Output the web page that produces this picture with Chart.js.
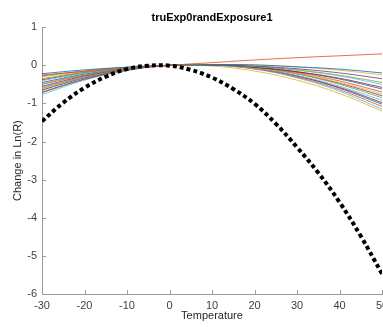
<!DOCTYPE html>
<html>
<head>
<meta charset="utf-8">
<script src="https://cdn.jsdelivr.net/npm/chart.js@4.4.1/dist/chart.umd.min.js"></script>
<style>
  html, body { margin: 0; padding: 0; background: #fff; overflow: hidden; }
  #wrap { width: 400px; height: 327px; position: relative; }
</style>
</head>
<body>
<div id="wrap"><canvas id="tempChart"></canvas></div>
<script>
// Donnees
const chartTitle = 'truExp0randExposure1';
const xTitle = 'Temperature';
const yTitle = 'Change in Ln(R)';

const xTicks = [-30, -20, -10, 0, 10, 20, 30, 40, 50];
const yTicks = [1, 0, -1, -2, -3, -4, -5, -6];

// courbe "vraie" (pointillee noire)
const trueTemps = [-30, -25, -20, -15, -10, -5, 0, 5, 10, 15, 20, 25, 30, 35, 40, 45, 50];
const trueValues = [-1.47, -0.98, -0.59, -0.30, -0.10, -0.01, -0.01, -0.12, -0.32, -0.62, -1.01, -1.53, -2.15, -2.82, -3.59, -4.48, -5.47];

// courbes estimees (fines, couleurs)
const estTemps = [-30, -20, -10, 0, 10, 20, 30, 40, 50];
const est01 = [-0.25, -0.16, -0.08, 0, 0.07, 0.14, 0.20, 0.25, 0.30];
const est02 = [-0.22, -0.12, -0.05, 0, 0.02, 0.01, -0.04, -0.10, -0.20];
const est03 = [-0.30, -0.16, -0.06, 0, 0.02, 0.01, -0.04, -0.13, -0.25];
const est04 = [-0.28, -0.15, -0.05, 0, 0.01, -0.02, -0.09, -0.20, -0.35];
const est05 = [-0.35, -0.18, -0.07, 0, 0.01, -0.03, -0.12, -0.26, -0.45];
const est06 = [-0.40, -0.21, -0.08, 0, 0.02, -0.03, -0.13, -0.28, -0.50];
const est07 = [-0.38, -0.19, -0.07, 0, 0.01, -0.05, -0.17, -0.34, -0.58];
const est08 = [-0.45, -0.23, -0.08, 0, 0.01, -0.04, -0.17, -0.36, -0.62];
const est09 = [-0.50, -0.26, -0.09, 0, 0.01, -0.05, -0.19, -0.41, -0.70];
const est10 = [-0.48, -0.24, -0.08, 0, 0.01, -0.07, -0.22, -0.45, -0.75];
const est11 = [-0.55, -0.28, -0.10, 0, 0.01, -0.06, -0.22, -0.47, -0.80];
const est12 = [-0.60, -0.31, -0.11, 0, 0.02, -0.06, -0.23, -0.50, -0.85];
const est13 = [-0.58, -0.29, -0.10, 0, 0.00, -0.09, -0.27, -0.55, -0.92];
const est14 = [-0.65, -0.33, -0.11, 0, 0.01, -0.08, -0.28, -0.58, -0.98];
const est15 = [-0.70, -0.36, -0.12, 0, 0.01, -0.08, -0.28, -0.60, -1.02];
const est16 = [-0.72, -0.37, -0.13, 0, 0.01, -0.09, -0.31, -0.64, -1.08];
const est17 = [-0.77, -0.39, -0.14, 0, 0.01, -0.10, -0.33, -0.68, -1.15];
const est18 = [-0.62, -0.30, -0.10, 0, -0.02, -0.15, -0.39, -0.74, -1.20];

const estSeries = [est01, est02, est03, est04, est05, est06, est07, est08, est09,
                   est10, est11, est12, est13, est14, est15, est16, est17, est18];
const estColors = ['#D95319', '#0072BD', '#EDB120', '#7E2F8E', '#77AC30', '#4DBEEE', '#A2142F',
                   '#0072BD', '#D95319', '#EDB120', '#7E2F8E', '#77AC30', '#4DBEEE', '#A2142F',
                   '#0072BD', '#D95319', '#4DBEEE', '#EDB120'];

const fontFamily = '"Liberation Sans", Arial, Helvetica, sans-serif';
const axisColor = '#9a9a9a';

function toPoints(xs, ys) {
    return ys.map((y, i) => ({ x: xs[i], y: y }));
}

// Petites graduations vers l'interieur, comme dans Matlab
const innerTicks = {
    id: 'innerTicks',
    afterDatasetsDraw(chart) {
        const { ctx, chartArea, scales } = chart;
        ctx.save();
        ctx.strokeStyle = axisColor;
        ctx.lineWidth = 1;
        ctx.beginPath();
        xTicks.forEach(v => {
            const px = Math.round(scales.x.getPixelForValue(v)) + 0.5;
            ctx.moveTo(px, chartArea.bottom);
            ctx.lineTo(px, chartArea.bottom - 4);
        });
        yTicks.forEach(v => {
            const py = Math.round(scales.y.getPixelForValue(v)) + 0.5;
            ctx.moveTo(chartArea.left, py);
            ctx.lineTo(chartArea.left + 4, py);
        });
        ctx.stroke();
        ctx.restore();
    }
};

const datasets = [{
    label: 'true',
    data: toPoints(trueTemps, trueValues),
    borderColor: '#000',
    borderWidth: 4,
    borderDash: [4, 3],
    borderCapStyle: 'butt',
    pointRadius: 0,
    tension: 0.4,
    fill: false
}];

estSeries.forEach((s, i) => {
    datasets.push({
        label: 'est' + (i + 1),
        data: toPoints(estTemps, s),
        borderColor: estColors[i] + 'd0',
        borderWidth: 1,
        pointRadius: 0,
        tension: 0.4,
        fill: false
    });
});

new Chart(document.getElementById('tempChart'), {
    type: 'line',
    data: { datasets: datasets },
    plugins: [innerTicks],
    options: {
        responsive: true,
        maintainAspectRatio: false,
        animation: false,
        layout: { padding: { top: 0, right: 18, bottom: 0, left: 0 } },
        plugins: {
            legend: { display: false },
            tooltip: { enabled: false },
            title: {
                display: true,
                text: chartTitle,
                fullSize: false,
                color: '#000',
                font: { family: fontFamily, size: 11, weight: 'bold' },
                padding: { top: 11, bottom: 3 }
            }
        },
        scales: {
            x: {
                type: 'linear',
                min: -30,
                max: 50,
                afterFit(scale) { scale.height = 33; },
                afterBuildTicks(scale) { scale.ticks = xTicks.map(v => ({ value: v })); },
                grid: { display: true, drawOnChartArea: false, drawTicks: false },
                border: { display: true, color: axisColor },
                ticks: {
                    color: '#404040',
                    padding: 5,
                    maxRotation: 0,
                    font: { family: fontFamily, size: 11 }
                },
                title: {
                    display: true,
                    text: xTitle,
                    color: '#262626',
                    padding: { top: 0, bottom: 4 },
                    font: { family: fontFamily, size: 11 }
                }
            },
            y: {
                min: -6,
                max: 1,
                afterFit(scale) { scale.width = 42; },
                afterBuildTicks(scale) { scale.ticks = yTicks.map(v => ({ value: v })); },
                grid: { display: true, drawOnChartArea: false, drawTicks: false },
                border: { display: true, color: axisColor },
                ticks: {
                    color: '#404040',
                    padding: 5,
                    font: { family: fontFamily, size: 11 }
                },
                title: {
                    display: true,
                    text: yTitle,
                    color: '#262626',
                    padding: { top: 11, bottom: 0 },
                    font: { family: fontFamily, size: 11 }
                }
            }
        }
    }
});
</script>
</body>
</html>
